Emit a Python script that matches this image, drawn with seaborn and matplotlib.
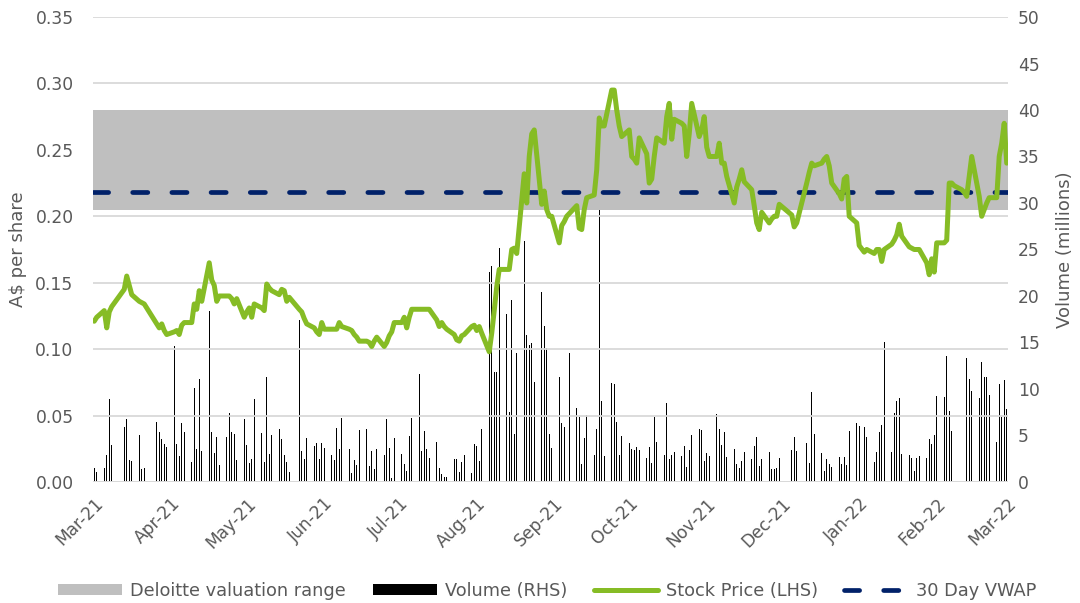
import numpy as np
import pandas as pd
import matplotlib
matplotlib.use("Agg")
import matplotlib.pyplot as plt
import matplotlib.dates as mdates
from matplotlib.patches import Patch
from matplotlib.lines import Line2D
import seaborn as sns

nan = np.nan

# one row per week (Mon..Fri), week of 22-Mar-21 to week of 21-Mar-22
# volume in millions of shares, nan = no trading day
volume_weeks = [
    [nan, nan, nan, 1.5, 1.1],
    [1.55, 2.85, 8.95, 4.0, nan],
    [nan, 5.9, 6.8, 2.35, 2.25],
    [5.1, 1.4, 1.5, 0, 0],
    [6.5, 5.4, 4.6, 4.1, 3.75],
    [14.6, 4.1, 2.8, 6.35, 5.35],
    [2.1, 10.1, 3.5, 11.1, 3.3],
    [18.4, 5.35, 3.1, 4.85, 1.85],
    [4.85, 7.4, 5.4, 5.2, 2.4],
    [6.8, 4.0, 2.05, 2.5, 8.9],
    [5.3, 2.1, 11.3, 3.0, 5.1],
    [5.7, 4.6, 2.95, 2.1, 1.05],
    [nan, 17.4, 3.35, 2.5, 4.7],
    [3.9, 4.2, 2.45, 4.15, 3.7],
    [2.9, 2.35, 5.8, 3.5, 6.85],
    [3.55, 1.0, 2.4, 1.8, 5.6],
    [5.65, 1.75, 3.3, 1.4, 3.5],
    [2.95, 6.8, 3.6, 0.45, 4.7],
    [3.05, 1.95, 1.15, 4.95, 6.9],
    [11.6, 3.3, 5.5, 3.55, 2.55],
    [4.25, 1.5, 0.85, 0.55, 0.55],
    [2.5, 2.45, 1.1, 2.1, 2.85],
    [0.95, 4.05, 3.85, 2.25, 5.75],
    [22.6, 23.2, 11.8, 11.8, 25.2],
    [18.1, 7.55, 19.6, 5.2, 13.9],
    [25.9, 15.8, 14.7, 14.9, 10.7],
    [20.4, 16.8, 14.4, 5.2, 3.6],
    [11.3, 6.3, 5.9, 0, 13.9],
    [7.95, 7.0, 1.95, 4.75, 7.15],
    [2.85, 5.75, 29.5, 8.7, 2.75],
    [10.6, 10.5, 6.45, 2.85, 4.95],
    [4.15, 3.55, 3.4, 3.8, 3.4],
    [2.55, 3.75, 2.0, 7.0, 4.3],
    [2.9, 8.5, 2.45, 2.9, 3.25],
    [2.8, 3.85, 1.6, 3.4, 5.1],
    [5.65, 5.55, 2.25, 3.15, 2.75],
    [7.3, 5.65, 4.0, 5.35, 2.7],
    [3.55, 1.9, 1.45, 2.3, 3.2],
    [2.5, 3.85, 4.8, 1.75, 2.45],
    [3.2, 1.35, 1.35, 1.5, 2.6],
    [nan, nan, 3.45, 4.85, 3.35],
    [nan, 4.15, 2.0, 9.7, 5.2],
    [3.1, 1.15, 2.45, 1.95, 1.65],
    [2.65, 1.95, 2.65, 1.8, 5.45],
    [6.35, 6.05, nan, 5.9, 4.8],
    [2.1, 3.2, 5.4, 6.15, 15.05],
    [3.2, 7.45, 8.75, 9.05, 3.0],
    [2.95, 2.6, 1.15, 2.6, 2.75],
    [2.6, 4.6, 4.05, 5.0, 9.25],
    [9.1, 13.5, 7.65, 5.5, 0],
    [0, 0, 13.35, 11.1, 9.8],
    [9.0, 12.9, 11.3, 11.3, 9.35],
    [4.35, 10.5, 7.0, 11.0, 7.8],
]

# closing price, A$ per share
price_weeks = [
    [nan, nan, nan, 0.121, 0.124],
    [0.129, 0.116, 0.128, 0.132, nan],
    [nan, 0.145, 0.155, 0.148, 0.141],
    [0.136, 0.135, 0.134, 0.131, 0.128],
    [0.119, 0.116, 0.119, 0.114, 0.111],
    [0.113, 0.114, 0.111, 0.118, 0.120],
    [0.120, 0.134, 0.130, 0.144, 0.136],
    [0.165, 0.152, 0.148, 0.136, 0.140],
    [0.140, 0.140, 0.138, 0.134, 0.138],
    [0.124, 0.128, 0.131, 0.124, 0.134],
    [0.131, 0.129, 0.149, 0.146, 0.144],
    [0.141, 0.145, 0.144, 0.136, 0.139],
    [nan, 0.130, 0.128, 0.123, 0.119],
    [0.116, 0.113, 0.111, 0.120, 0.115],
    [0.115, 0.115, 0.115, 0.120, 0.117],
    [0.115, 0.114, 0.111, 0.109, 0.106],
    [0.106, 0.105, 0.102, 0.106, 0.109],
    [0.102, 0.105, 0.110, 0.113, 0.120],
    [0.120, 0.124, 0.116, 0.124, 0.130],
    [0.130, 0.130, 0.130, 0.130, 0.130],
    [0.122, 0.117, 0.120, 0.117, 0.115],
    [0.111, 0.107, 0.106, 0.110, 0.111],
    [0.117, 0.118, 0.114, 0.117, 0.112],
    [0.098, 0.112, 0.129, 0.147, 0.160],
    [0.160, 0.160, 0.175, 0.176, 0.172],
    [0.232, 0.210, 0.245, 0.262, 0.265],
    [0.209, 0.219, 0.205, 0.200, 0.200],
    [0.180, 0.193, 0.196, 0.200, 0.202],
    [0.208, 0.191, 0.190, 0.205, 0.214],
    [0.216, 0.235, 0.274, 0.268, 0.268],
    [0.295, 0.295, 0.280, 0.268, 0.260],
    [0.265, 0.245, 0.243, 0.240, 0.259],
    [0.247, 0.225, 0.228, 0.245, 0.259],
    [0.255, 0.275, 0.285, 0.258, 0.273],
    [0.270, 0.268, 0.245, 0.262, 0.285],
    [0.260, 0.265, 0.275, 0.252, 0.245],
    [0.245, 0.255, 0.240, 0.240, 0.230],
    [0.210, 0.222, 0.228, 0.235, 0.226],
    [0.220, 0.208, 0.195, 0.190, 0.203],
    [0.195, 0.198, 0.200, 0.200, 0.209],
    [nan, nan, 0.201, 0.192, 0.195],
    [nan, 0.225, 0.233, 0.240, 0.238],
    [0.240, 0.243, 0.245, 0.238, 0.225],
    [0.217, 0.213, 0.228, 0.230, 0.200],
    [0.195, 0.178, nan, 0.173, 0.175],
    [0.172, 0.175, 0.175, 0.166, 0.175],
    [0.179, 0.182, 0.186, 0.194, 0.185],
    [0.177, 0.176, 0.175, 0.175, 0.175],
    [0.165, 0.156, 0.168, 0.158, 0.180],
    [0.180, 0.182, 0.225, 0.225, 0.223],
    [0.220, 0.218, 0.215, 0.230, 0.245],
    [0.215, 0.200, 0.205, 0.210, 0.214],
    [0.214, 0.245, 0.255, 0.270, 0.240],
]

valuation_low = 0.205
valuation_high = 0.28
vwap_30d = 0.218

tick_dates = ["2021-03-25", "2021-04-25", "2021-05-25", "2021-06-25", "2021-07-25",
              "2021-08-25", "2021-09-25", "2021-10-25", "2021-11-25", "2021-12-25",
              "2022-01-25", "2022-02-25", "2022-03-25"]
tick_labels = ["Mar-21", "Apr-21", "May-21", "Jun-21", "Jul-21", "Aug-21", "Sep-21",
               "Oct-21", "Nov-21", "Dec-21", "Jan-22", "Feb-22", "Mar-22"]

days = pd.bdate_range("2021-03-22", "2022-03-25")
df = pd.DataFrame({
    "date": days,
    "volume": np.array(volume_weeks).ravel(),
    "price": np.array(price_weeks).ravel(),
})

GREEN = "#86BC25"
NAVY = "#012169"
BAND = "#BFBFBF"
TXT = "#595959"

sns.set_theme(style="white")
plt.rcParams["font.family"] = ["DejaVu Sans"]

fig = plt.figure(figsize=(10.8, 6.03), dpi=100)
ax = fig.add_axes([0.0861, 0.2007, 0.8472, 0.7711])
ax2 = ax.twinx()
ax.set_zorder(ax2.get_zorder() + 1)
ax.patch.set_visible(False)

# volume bars on the right-hand axis
vol = df.dropna(subset=["volume"])
ax2.bar(vol["date"], vol["volume"], width=0.45, color="black", linewidth=0)
ax2.set_ylim(0, 50)
ax2.set_yticks(range(0, 51, 5))

# valuation band, VWAP and price on the left-hand axis
xmin = pd.Timestamp("2021-03-24 12:00")
xmax = pd.Timestamp("2022-03-25 12:00")
ax.axhspan(valuation_low, valuation_high, color=BAND, lw=0, zorder=1)
ax.plot([xmin, xmax], [vwap_30d, vwap_30d], color=NAVY, lw=3.4,
        dashes=(3.2, 5.1), dash_capstyle="round", zorder=3)
px = df.dropna(subset=["price"])
sns.lineplot(data=px, x="date", y="price", ax=ax, color=GREEN, lw=3.6,
             estimator=None, solid_joinstyle="round", zorder=4)

ax.set_ylim(0, 0.35)
ax.set_yticks(np.arange(0, 0.351, 0.05))
ax.set_yticklabels([f"{v:.2f}" for v in np.arange(0, 0.351, 0.05)])
ax.set_xlim(xmin, xmax)
ax2.set_xlim(xmin, xmax)

ax.grid(axis="y", color="#D9D9D9", lw=1.3)
ax.set_axisbelow(True)
ax2.grid(False)

ax.set_xticks(pd.to_datetime(tick_dates))
ax.set_xticklabels(tick_labels, rotation=45, ha="right", rotation_mode="anchor")
ax.xaxis.set_minor_locator(mdates.DayLocator())
ax.tick_params(axis="x", which="major", length=0, pad=9, labelsize=12.3, labelcolor=TXT)
ax.tick_params(axis="x", which="minor", length=2.5, width=0.6, color="#BFBFBF")
ax.tick_params(axis="y", length=0, pad=14, labelsize=12.3, labelcolor=TXT)
ax2.tick_params(axis="y", length=0, pad=7, labelsize=12.3, labelcolor=TXT)

ax.set_xlabel("")
ax.set_ylabel("A$ per share", fontsize=13, color=TXT, labelpad=6)
ax2.set_ylabel("Volume (millions)", fontsize=13, color=TXT, labelpad=12)

for a in (ax, ax2):
    for side in ("top", "left", "right", "bottom"):
        a.spines[side].set_visible(False)
ax.axhline(0, color="#D9D9D9", lw=1.3, zorder=2)

handles = [
    Patch(facecolor=BAND, edgecolor="none"),
    Patch(facecolor="black", edgecolor="none"),
    Line2D([], [], color=GREEN, lw=3.6),
    Line2D([], [], color=NAVY, lw=3.4, dashes=(3.2, 5.1), dash_capstyle="round"),
]
labels = ["Deloitte valuation range", "Volume (RHS)", "Stock Price (LHS)", "30 Day VWAP"]
fig.legend(handles, labels, loc="center", bbox_to_anchor=(0.507, 0.02), ncol=4,
           frameon=False, fontsize=12.8, labelcolor=TXT, handlelength=3.6,
           handleheight=0.6, handletextpad=0.45, columnspacing=1.5)

fig.savefig("out.png", dpi=100)
